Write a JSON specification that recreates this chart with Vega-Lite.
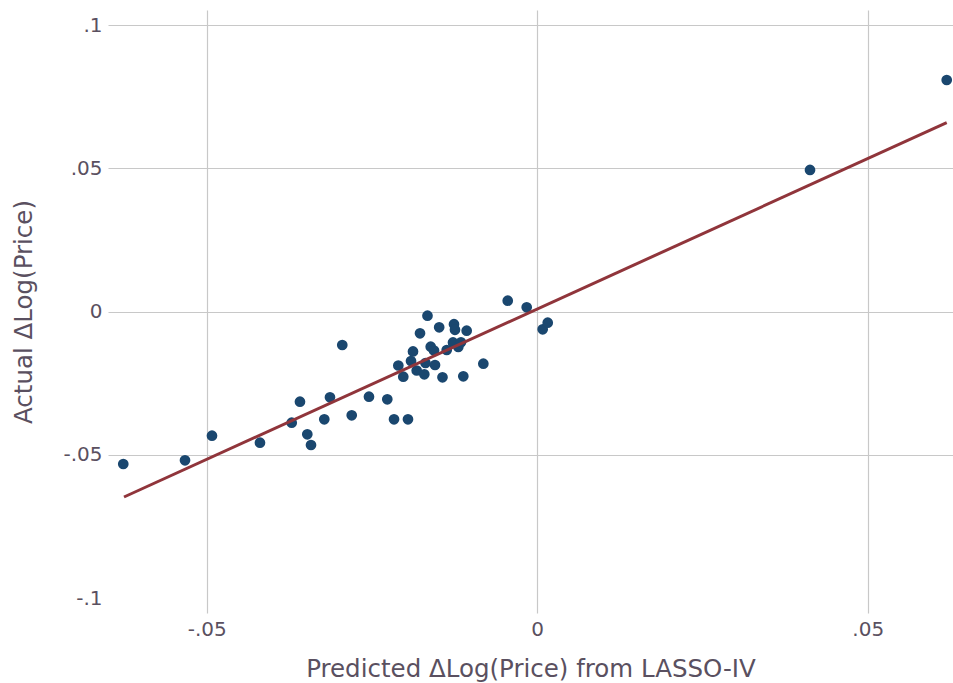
{
  "$schema": "https://vega.github.io/schema/vega-lite/v6.json",
  "width": 845,
  "height": 603,
  "autosize": {"type": "none"},
  "padding": {"left": 108, "top": 10, "right": 0, "bottom": 70},
  "background": "white",
  "config": {
    "view": {"stroke": null},
    "font": "DejaVu Sans",
    "axis": {
      "domain": false,
      "ticks": false,
      "gridColor": "#c8c8c8",
      "gridWidth": 1.2,
      "labelFont": "DejaVu Sans",
      "labelFontSize": 20,
      "labelColor": "#5a5060",
      "titleFont": "DejaVu Sans",
      "titleFontSize": 24.5,
      "titleFontWeight": "normal",
      "titleColor": "#5a5060",
      "labelPadding": 6
    }
  },
  "datasets": {
    "points": [
      {"pred": -0.06262, "actual": -0.05314},
      {"pred": -0.05328, "actual": -0.05185},
      {"pred": -0.04920, "actual": -0.04326},
      {"pred": -0.04194, "actual": -0.04571},
      {"pred": -0.03714, "actual": -0.03873},
      {"pred": -0.03589, "actual": -0.03140},
      {"pred": -0.03478, "actual": -0.04277},
      {"pred": -0.03422, "actual": -0.04651},
      {"pred": -0.03221, "actual": -0.03754},
      {"pred": -0.03135, "actual": -0.02986},
      {"pred": -0.02949, "actual": -0.01161},
      {"pred": -0.02806, "actual": -0.03614},
      {"pred": -0.02545, "actual": -0.02965},
      {"pred": -0.02268, "actual": -0.03056},
      {"pred": -0.02166, "actual": -0.03754},
      {"pred": -0.01955, "actual": -0.03754},
      {"pred": -0.02101, "actual": -0.01876},
      {"pred": -0.02026, "actual": -0.02267},
      {"pred": -0.01909, "actual": -0.01719},
      {"pred": -0.01879, "actual": -0.01387},
      {"pred": -0.01823, "actual": -0.02051},
      {"pred": -0.01708, "actual": -0.02183},
      {"pred": -0.01690, "actual": -0.01789},
      {"pred": -0.01773, "actual": -0.00752},
      {"pred": -0.01660, "actual": -0.00138},
      {"pred": -0.01483, "actual": -0.00543},
      {"pred": -0.01611, "actual": -0.01220},
      {"pred": -0.01561, "actual": -0.01353},
      {"pred": -0.01546, "actual": -0.01859},
      {"pred": -0.01433, "actual": -0.02288},
      {"pred": -0.01369, "actual": -0.01335},
      {"pred": -0.01274, "actual": -0.01073},
      {"pred": -0.01194, "actual": -0.01230},
      {"pred": -0.01153, "actual": -0.01066},
      {"pred": -0.01259, "actual": -0.00435},
      {"pred": -0.01244, "actual": -0.00630},
      {"pred": -0.01067, "actual": -0.00661},
      {"pred": -0.01118, "actual": -0.02253},
      {"pred": -0.00815, "actual": -0.01813},
      {"pred": -0.00446, "actual": 0.00386},
      {"pred": -0.00159, "actual": 0.00155},
      {"pred": 0.00083, "actual": -0.00613},
      {"pred": 0.00159, "actual": -0.00382},
      {"pred": 0.04127, "actual": 0.04948},
      {"pred": 0.06195, "actual": 0.08089}
    ],
    "fit": [
      {"pred": -0.06251, "actual": -0.06466},
      {"pred": 0.06195, "actual": 0.06599}
    ]
  },
  "encoding": {
    "x": {
      "field": "pred",
      "type": "quantitative",
      "scale": {"domain": [-0.06493, 0.0629], "nice": false, "zero": false},
      "axis": {
        "title": "Predicted ΔLog(Price) from LASSO-IV",
        "values": [-0.05, 0, 0.05],
        "labelExpr": "datum.value == 0 ? '0' : (datum.value < 0 ? '-' : '') + replace(toString(abs(datum.value)), '0.', '.')",
        "titlePadding": 18
      }
    },
    "y": {
      "field": "actual",
      "type": "quantitative",
      "scale": {"domain": [-0.10515, 0.10532], "nice": false, "zero": false},
      "axis": {
        "title": "Actual ΔLog(Price)",
        "values": [-0.1, -0.05, 0, 0.05, 0.1],
        "labelExpr": "datum.value == 0 ? '0' : (datum.value < 0 ? '-' : '') + replace(toString(abs(datum.value)), '0.', '.')",
        "gridOpacity": {"condition": {"test": "datum.value < -0.09", "value": 0}, "value": 1},
        "titlePadding": 26
      }
    }
  },
  "layer": [
    {
      "data": {"name": "points"},
      "mark": {"type": "circle", "size": 115, "color": "#1a476f", "opacity": 1}
    },
    {
      "data": {"name": "fit"},
      "mark": {"type": "line", "color": "#90353b", "strokeWidth": 3}
    }
  ]
}
